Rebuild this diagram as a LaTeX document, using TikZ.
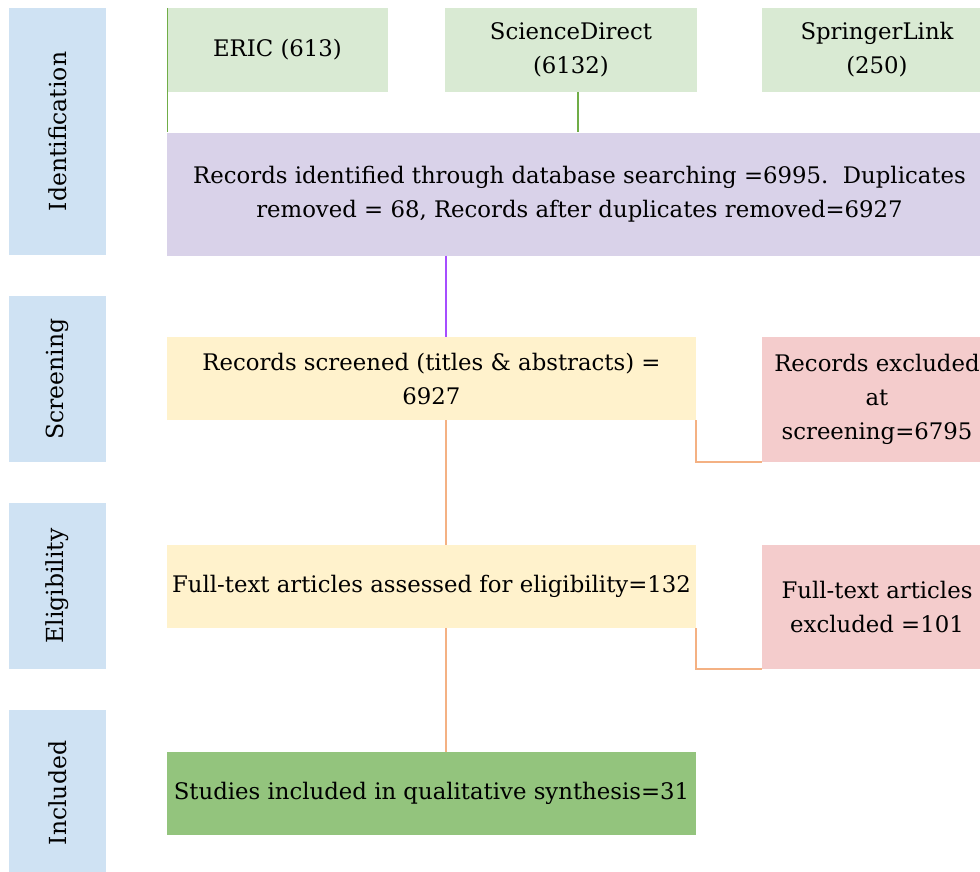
\documentclass[tikz,border=0pt]{standalone}
\usepackage{fontspec}
\setmainfont{DejaVu Serif}
\definecolor{labelblue}{HTML}{CFE2F3}
\definecolor{srcgreen}{HTML}{D9EAD3}
\definecolor{purbox}{HTML}{D9D2E9}
\definecolor{yelbox}{HTML}{FFF2CC}
\definecolor{pinkbox}{HTML}{F4CCCC}
\definecolor{incgreen}{HTML}{93C47D}
\definecolor{gline}{HTML}{70AD47}
\definecolor{pline}{HTML}{A64DFF}
\definecolor{oline}{HTML}{F4B183}
\begin{document}
\begin{tikzpicture}[x=1pt,y=-1pt,
  box/.style={rectangle, inner sep=0pt, anchor=center, align=center,
    font=\fontsize{22.8}{34}\selectfont, text=black},
  stage/.style={box, fill=labelblue, rotate=90, minimum width=#1, minimum height=97,
    font=\fontsize{23.5}{34}\selectfont},
  conn/.style={line width=1.5pt}]
\clip (0,0) rectangle (980,871);
\fill[white] (0,0) rectangle (980,871);
% stage labels
\node[stage=247] (lid) at (57.5,131.5) {Identification};
\node[stage=166] (lscr) at (57.5,379) {Screening};
\node[stage=166] (lel) at (57.5,586) {Eligibility};
\node[stage=166] (linc) at (57.5,793) {Included};
% sources
\node[box, fill=srcgreen, minimum width=220, minimum height=84] (eric) at (277.5,50) {ERIC (613)};
\node[box, fill=srcgreen, minimum width=252, minimum height=84] (sd) at (571,50) {ScienceDirect\\(6132)};
\node[box, fill=srcgreen, minimum width=230, minimum height=84] (spr) at (877,50) {SpringerLink\\(250)};
% identification
\node[box, fill=purbox, minimum width=825, minimum height=123] (pur) at (579.5,194)
  {Records identified through database searching =6995.\ \ Duplicates\\removed = 68, Records after duplicates removed=6927};
% screening
\node[box, fill=yelbox, minimum width=529, minimum height=83] (scr) at (431.5,378.5)
  {Records screened (titles \& abstracts) =\\6927};
\node[box, fill=pinkbox, minimum width=230, minimum height=125] (exc1) at (877,399.5)
  {Records excluded\\at\\screening=6795};
% eligibility
\node[box, fill=yelbox, minimum width=529, minimum height=83] (elig) at (431.5,586.5)
  {Full-text articles assessed for eligibility=132};
\node[box, fill=pinkbox, minimum width=230, minimum height=124] (exc2) at (877,607)
  {Full-text articles\\excluded =101};
% included
\node[box, fill=incgreen, minimum width=529, minimum height=83] (incl) at (431.5,793.5)
  {Studies included in qualitative synthesis=31};
% spine
\coordinate (spine) at (446,0);
\coordinate (sdx) at (578,0);
% connectors
\draw[conn, gline] (eric.north west) -- (eric.north west |- pur.north);
\draw[conn, gline] (sd.south -| sdx) -- (pur.north -| sdx);
\draw[conn, pline] (pur.south -| spine) -- (scr.north -| spine);
\draw[conn, oline] (scr.south -| spine) -- (elig.north -| spine);
\draw[conn, oline] (elig.south -| spine) -- (incl.north -| spine);
\draw[conn, oline] (scr.south east) -- (scr.south east |- exc1.south) -- (exc1.south west);
\draw[conn, oline] (elig.south east) -- (elig.south east |- exc2.south) -- (exc2.south west);
\end{tikzpicture}
\end{document}
